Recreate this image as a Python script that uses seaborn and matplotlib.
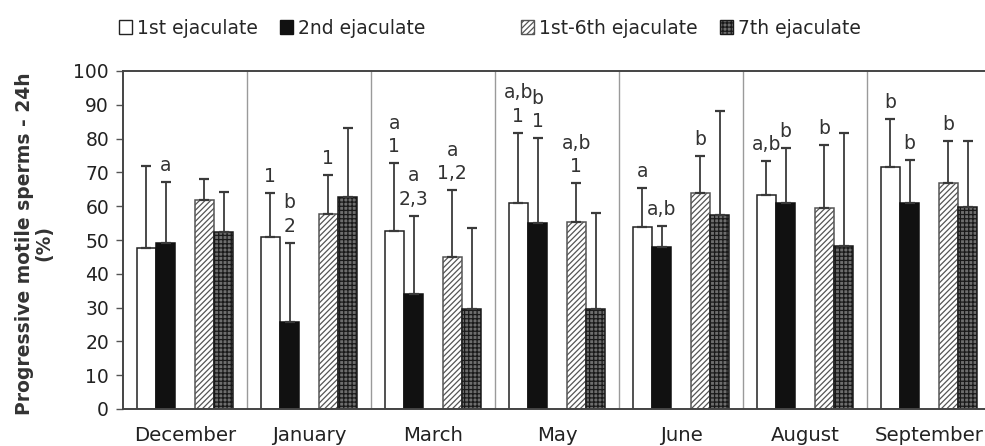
import numpy as np
import pandas as pd
import matplotlib
matplotlib.use("Agg")
import matplotlib.pyplot as plt
from matplotlib.patches import Patch
from matplotlib.container import BarContainer
import seaborn as sns

months = ['December', 'January', 'March', 'May', 'June', 'August', 'September']
series = ['1st ejaculate', '2nd ejaculate', '1st-6th ejaculate', '7th ejaculate']

first_mean = [47.5, 51.0, 52.7, 61.0, 53.7, 63.3, 71.7]
first_sd = [24.5, 12.8, 20.0, 20.8, 11.6, 10.2, 14.1]
second_mean = [49.2, 25.6, 33.9, 54.9, 47.8, 60.8, 60.8]
second_sd = [18.1, 23.6, 23.3, 25.2, 6.3, 16.3, 12.9]
sixth_mean = [61.8, 57.7, 45.0, 55.2, 63.8, 59.6, 67.0]
sixth_sd = [6.3, 11.5, 19.8, 11.6, 11.1, 18.5, 12.4]
seventh_mean = [52.3, 62.8, 29.5, 29.5, 57.4, 48.2, 59.9]
seventh_sd = [12.0, 20.2, 24.1, 28.4, 30.9, 33.4, 19.5]

first_lab = ['', '1', 'a\n1', 'a,b\n1', 'a', 'a,b', 'b']
second_lab = ['a', 'b\n2', 'a\n2,3', 'b\n1', 'a,b', 'b', 'b']
sixth_lab = ['', '1', 'a\n1,2', 'a,b\n1', 'b', 'b', 'b']
seventh_lab = ['', '', '', '', '', '', '']

yticks = list(range(0, 101, 10))

means = [first_mean, second_mean, sixth_mean, seventh_mean]
sds = [first_sd, second_sd, sixth_sd, seventh_sd]
labs = [first_lab, second_lab, sixth_lab, seventh_lab]

rows = []
for s, m_list, sd_list, l_list in zip(series, means, sds, labs):
    for mo, m, sd, lb in zip(months, m_list, sd_list, l_list):
        rows.append(dict(month=mo, series=s, value=m, sd=sd, label=lb))
df = pd.DataFrame(rows)

sns.set_style('ticks')
plt.rcParams['font.family'] = ['DejaVu Sans']
plt.rcParams['hatch.linewidth'] = 0.9

fig = plt.figure(figsize=(9.85, 4.46), dpi=100)
ax = fig.add_axes([123 / 985, 1 - 409 / 446, 868 / 985, 338 / 446])

gap = ' '
hue_order = [series[0], series[1], gap, series[2], series[3]]
palette = {series[0]: 'white', series[1]: '#111111', gap: 'white',
           series[2]: 'white', series[3]: '#6e6e6e'}
sns.barplot(data=df, x='month', y='value', hue='series', order=months,
            hue_order=hue_order, palette=palette, width=0.78,
            errorbar=None, legend=False, edgecolor='#222222', linewidth=1.1,
            saturation=1, ax=ax)

bar_conts = [c for c in ax.containers
             if isinstance(c, BarContainer) and len(c.patches) > 0]
hatches = {series[0]: '', series[1]: '', series[2]: '//////', series[3]: '++++'}
edgecols = {series[0]: '#222222', series[1]: '#111111', series[2]: '#555555',
            series[3]: '#1a1a1a'}
for name, cont in zip(series, bar_conts):
    sub = df[df['series'] == name].set_index('month')
    for patch in cont.patches:
        xc = patch.get_x() + patch.get_width() / 2
        r = sub.loc[months[int(round(xc))]]
        patch.set_hatch(hatches[name])
        patch.set_edgecolor(edgecols[name])
        h = patch.get_height()
        ax.errorbar(xc, h, yerr=[[0], [r['sd']]], fmt='none',
                    ecolor='#3a3a3a', elinewidth=1.3, capsize=3.6,
                    capthick=1.6, zorder=1)
        if r['label']:
            ax.annotate(r['label'], xy=(xc, h + r['sd']), xytext=(0, 5),
                        textcoords='offset points', ha='center', va='bottom',
                        fontsize=13.5, color='#333333', linespacing=1.3)

for i in range(len(months) - 1):
    ax.axvline(i + 0.5, color='#9a9a9a', lw=1.0, zorder=0)

ax.set_xlim(-0.5, len(months) - 0.5)
ax.set_ylim(0, 100)
ax.set_yticks(yticks)
ax.tick_params(axis='y', labelsize=13.5, length=5, width=1, color='#555555',
               labelcolor='#222222', pad=5)
ax.tick_params(axis='x', labelsize=14.2, length=0, pad=12, labelcolor='#222222')
ax.set_xlabel('')
ax.set_ylabel('Progressive motile sperms - 24h\n(%)', fontsize=13.5,
              fontweight='bold', color='#333333', linespacing=1.05)
ax.yaxis.set_label_coords(-0.08, 0.49)
for sp in ['left', 'bottom', 'top']:
    ax.spines[sp].set_visible(True)
    ax.spines[sp].set_color('#444444')
    ax.spines[sp].set_linewidth(1.4)
ax.spines['right'].set_visible(False)

handles = [Patch(facecolor='white', edgecolor='#222222', label=series[0]),
           Patch(facecolor='#111111', edgecolor='#111111', label=series[1]),
           Patch(facecolor='white', edgecolor='#555555', hatch='//////', label=series[2]),
           Patch(facecolor='#6e6e6e', edgecolor='#1a1a1a', hatch='++++', label=series[3])]
leg_kw = dict(frameon=False, fontsize=13.5, handlelength=0.7, handleheight=0.7,
              handletextpad=0.25, columnspacing=1.2, ncol=2, borderaxespad=0,
              borderpad=0)
leg1 = fig.legend(handles=handles[:2], loc='center left',
                  bbox_to_anchor=(119 / 985, 1 - 28 / 446), **leg_kw)
leg2 = fig.legend(handles=handles[2:], loc='center left',
                  bbox_to_anchor=(521 / 985, 1 - 28 / 446), **leg_kw)

fig.savefig('out.png', dpi=100)
